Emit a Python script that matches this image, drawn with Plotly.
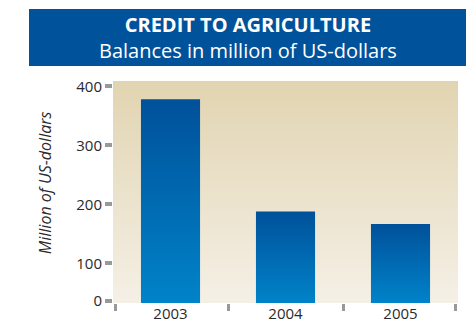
import plotly.graph_objects as go

years = ["2003", "2004", "2005"]
balances = [378, 188, 167]
ytick_vals = [36.6, 100, 200, 300, 400]
ytick_text = ["0", "100", "200", "300", "400"]

y_lo, y_hi = 33, 409
bar_half = 0.257
FONT = "Open Sans"

fig = go.Figure()

# background gradient of the plot area
fig.add_trace(go.Scatter(
    x=[-0.5, 2.5, 2.5, -0.5, -0.5], y=[y_lo, y_lo, y_hi, y_hi, y_lo],
    mode="none", fill="toself",
    fillgradient=dict(type="vertical", start=y_lo, stop=y_hi,
                      colorscale=[[0, "#F5F0E6"], [1, "#E1D4B1"]]),
    hoverinfo="skip", showlegend=False))

for i, v in enumerate(balances):
    xs = [i - bar_half, i + bar_half, i + bar_half, i - bar_half, i - bar_half]
    ys = [0, 0, v, v, 0]
    fig.add_trace(go.Scatter(
        x=xs, y=ys, mode="none", fill="toself",
        fillgradient=dict(type="vertical", start=y_lo, stop=v,
                          colorscale=[[0, "#0083C9"], [1, "#00519A"]]),
        name=years[i], showlegend=False))

# invisible trace for the boundary tick axis
fig.add_trace(go.Scatter(x=[-0.5, 2.5], y=[y_lo, y_lo], xaxis="x2", mode="none",
                         hoverinfo="skip", showlegend=False))

fig.update_layout(
    width=467, height=335,
    margin=dict(l=113, r=9, t=81, b=32),
    paper_bgcolor="white", plot_bgcolor="white",
    font=dict(family=FONT, color="#2a2a2a"),
    xaxis=dict(range=[-0.5, 2.5], tickvals=[0, 1, 2], ticktext=years,
               ticks="", showgrid=False, zeroline=False, showline=False,
               tickfont=dict(size=15, color="#2a2a2a", family=FONT)),
    xaxis2=dict(range=[-0.5, 2.5], overlaying="x", side="bottom",
                tickvals=[-0.48, 0.5, 1.5, 2.48], ticks="outside", ticklen=7,
                tickwidth=3, tickcolor="#999999", showticklabels=False,
                showgrid=False, zeroline=False, showline=False),
    yaxis=dict(range=[y_lo, y_hi], tickvals=ytick_vals, ticktext=ytick_text,
               ticks="outside", ticklen=7, tickwidth=4, tickcolor="#999999",
               showgrid=False, zeroline=False, showline=False,
               tickfont=dict(size=15, color="#2a2a2a", family=FONT)),
    shapes=[dict(type="rect", xref="paper", yref="paper",
                 x0=(29 - 113) / 345, x1=(466 - 113) / 345,
                 y0=(302.7 - 66) / 221.7, y1=(302.7 - 9) / 221.7,
                 fillcolor="#00529B", line=dict(width=0), layer="above")],
    annotations=[
        dict(text="<b>CREDIT TO AGRICULTURE</b><br>"
                  "<span style='font-size:20px'>Balances in million of US-dollars</span>",
             xref="paper", yref="paper",
             x=(248 - 113) / 345, y=(302.7 - 37.5) / 221.7, showarrow=False,
             xanchor="center", yanchor="middle", align="center",
             font=dict(size=20, color="white", family=FONT)),
        dict(text="<i>Million of US-dollars</i>", xref="paper", yref="paper",
             x=(45 - 113) / 345, y=(302.7 - 183) / 221.7, showarrow=False,
             textangle=-90, xanchor="center", yanchor="middle",
             font=dict(size=16, color="#2a2a2a", family=FONT)),
    ],
)

fig.write_html("out.html")
